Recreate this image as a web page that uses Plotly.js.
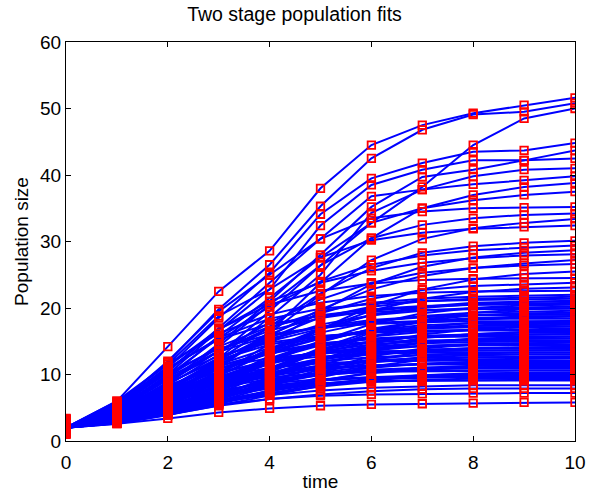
<!DOCTYPE html>
<html>
<head>
<meta charset="utf-8">
<script src="https://cdn.plot.ly/plotly-3.0.1.min.js"></script>
<style>html,body{margin:0;padding:0;background:#fff;}#chart{width:589px;height:493px;}</style>
</head>
<body>
<div id="chart"></div>
<script>
// Time points (x axis)
const times = [0, 1, 2, 3, 4, 5, 6, 7, 8, 9, 10];
const xTickVals = [0, 2, 4, 6, 8, 10];
const yTickVals = [0, 10, 20, 30, 40, 50, 60];

// Upper fitted curves (values at each time point)
const upperCurves = [
  [2, 6.0, 14.2, 22.5, 28.6, 38.0, 44.5, 47.5, 49.3, 50.5, 51.6],
  [2, 5.6, 11.8, 19.8, 26.5, 35.3, 42.5, 46.8, 49.1, 49.5, 50.8],
  [2, 4.4, 8.4, 13.0, 19.5, 26.4, 32.8, 38.2, 44.5, 48.5, 50.0],
  [2, 5.2, 11.0, 18.5, 25.3, 34.1, 39.5, 41.8, 43.5, 43.7, 44.8],
  [2, 4.8, 10.0, 16.6, 22.8, 32.4, 38.5, 40.8, 42.2, 42.2, 43.7],
  [2, 4.3, 8.8, 14.6, 21.0, 28.0, 35.2, 39.7, 40.8, 42.2, 42.5],
  [2, 3.9, 7.6, 12.4, 18.6, 25.0, 34.3, 37.8, 39.8, 40.8, 41.0],
  [2, 5.0, 10.4, 17.0, 23.8, 30.4, 36.8, 37.8, 38.6, 39.2, 39.8],
  [2, 3.7, 7.0, 11.2, 16.4, 23.8, 30.5, 35.0, 37.0, 38.2, 38.8],
  [2, 4.6, 9.4, 15.8, 21.5, 27.6, 32.8, 35.0, 36.2, 37.0, 37.5]
];

// Middle fitted curves
const middleCurves = [
  [2, 5.4, 12.0, 19.5, 25.0, 30.4, 33.5, 34.5, 35.0, 35.1, 35.2],
  [2, 4.2, 8.6, 14.2, 20.5, 26.4, 30.5, 32.5, 33.5, 34.0, 34.2],
  [2, 3.6, 6.8, 11.0, 16.2, 22.0, 27.2, 30.4, 32.0, 32.8, 33.4],
  [2, 5.8, 11.5, 18.8, 22.8, 27.6, 30.2, 31.3, 31.9, 32.2, 32.4],
  [2, 4.0, 7.6, 12.2, 17.2, 22.2, 26.0, 28.3, 29.3, 29.8, 30.1],
  [2, 4.8, 9.8, 15.5, 20.2, 24.0, 26.5, 27.9, 28.7, 29.1, 29.4],
  [2, 3.4, 6.2, 10.0, 14.6, 19.5, 23.6, 26.2, 27.6, 28.3, 28.7],
  [2, 5.0, 10.6, 16.8, 21.0, 23.8, 25.6, 26.8, 27.5, 27.9, 28.1],
  [2, 3.8, 7.2, 11.4, 15.8, 19.8, 22.8, 24.8, 26.0, 26.7, 27.2],
  [2, 4.5, 8.8, 13.5, 17.8, 21.3, 23.8, 25.3, 26.0, 26.4, 26.6],
  [2, 3.3, 5.8, 9.0, 12.8, 16.8, 20.3, 22.8, 24.3, 25.1, 25.5],
  [2, 5.5, 11.2, 16.8, 20.5, 22.6, 23.7, 24.2, 24.4, 24.5, 24.5],
  [2, 4.2, 8.0, 12.2, 16.0, 19.2, 21.4, 22.7, 23.3, 23.6, 23.8],
  [2, 3.6, 6.4, 9.8, 13.4, 16.8, 19.6, 21.4, 22.4, 22.9, 23.1],
  [2, 6.0, 11.6, 16.2, 19.0, 20.8, 21.8, 22.3, 22.5, 22.6, 22.6]
];

// Dense lower band of fitted curves
const denseCurves = [
  [2, 4.3, 8.8, 13.5, 17.0, 19.5, 20.8, 21.4, 21.7, 21.9, 22.0],
  [2, 3.9, 7.5, 11.8, 15.5, 18.6, 20.2, 21.0, 21.4, 21.6, 21.7],
  [2, 5.2, 10.8, 15.5, 18.4, 19.9, 20.6, 21.0, 21.2, 21.3, 21.4],
  [2, 3.5, 6.2, 9.8, 13.6, 16.8, 19.0, 20.2, 20.8, 21.0, 21.1],
  [2, 4.6, 9.2, 13.6, 16.6, 18.5, 19.6, 20.2, 20.5, 20.7, 20.8],
  [2, 3.2, 5.4, 8.4, 11.8, 15.0, 17.6, 19.2, 20.0, 20.4, 20.5],
  [2, 4.0, 7.8, 11.9, 15.2, 17.5, 18.9, 19.6, 20.0, 20.1, 20.2],
  [2, 5.6, 11.0, 15.3, 17.6, 18.8, 19.4, 19.7, 19.8, 19.9, 19.9],
  [2, 3.7, 6.8, 10.4, 13.8, 16.3, 17.9, 18.8, 19.3, 19.5, 19.6],
  [2, 3.0, 4.9, 7.6, 10.8, 14.0, 16.5, 18.1, 18.9, 19.2, 19.3],
  [2, 4.4, 8.6, 12.5, 15.4, 17.2, 18.2, 18.7, 18.9, 19.0, 19.0],
  [2, 3.4, 6.0, 9.2, 12.4, 15.0, 16.8, 17.8, 18.3, 18.6, 18.7],
  [2, 4.9, 9.6, 13.4, 15.8, 17.1, 17.8, 18.1, 18.3, 18.4, 18.4],
  [2, 3.1, 5.0, 7.6, 10.6, 13.5, 15.7, 17.1, 17.8, 18.0, 18.1],
  [2, 3.8, 7.0, 10.4, 13.3, 15.4, 16.7, 17.4, 17.7, 17.8, 17.8],
  [2, 4.2, 8.0, 11.5, 14.0, 15.6, 16.6, 17.1, 17.3, 17.4, 17.5],
  [2, 2.9, 4.6, 6.9, 9.6, 12.3, 14.6, 16.0, 16.8, 17.1, 17.2],
  [2, 3.6, 6.5, 9.6, 12.3, 14.4, 15.7, 16.4, 16.7, 16.8, 16.9],
  [2, 5.0, 9.4, 12.8, 14.8, 15.8, 16.3, 16.5, 16.6, 16.6, 16.6],
  [2, 3.3, 5.6, 8.3, 11.0, 13.3, 14.9, 15.8, 16.1, 16.3, 16.3],
  [2, 4.1, 7.6, 10.8, 13.1, 14.6, 15.4, 15.8, 15.9, 16.0, 16.0],
  [2, 2.8, 4.3, 6.4, 8.9, 11.4, 13.5, 14.8, 15.4, 15.6, 15.7],
  [2, 3.7, 6.6, 9.5, 11.9, 13.5, 14.5, 15.0, 15.3, 15.4, 15.4],
  [2, 4.5, 8.2, 11.3, 13.3, 14.4, 14.9, 15.1, 15.1, 15.1, 15.1],
  [2, 3.2, 5.3, 7.8, 10.2, 12.2, 13.6, 14.3, 14.6, 14.7, 14.8],
  [2, 3.9, 6.9, 9.7, 11.8, 13.1, 13.9, 14.3, 14.4, 14.5, 14.5],
  [2, 2.7, 4.1, 6.0, 8.2, 10.4, 12.2, 13.4, 13.9, 14.1, 14.2],
  [2, 3.5, 6.0, 8.6, 10.8, 12.4, 13.3, 13.7, 13.9, 13.9, 13.9],
  [2, 4.7, 8.4, 11.0, 12.5, 13.2, 13.5, 13.6, 13.6, 13.6, 13.6],
  [2, 3.0, 4.8, 7.0, 9.2, 11.0, 12.3, 13.0, 13.2, 13.3, 13.3],
  [2, 3.8, 6.6, 9.1, 10.9, 12.0, 12.6, 12.9, 13.0, 13.0, 13.0],
  [2, 2.6, 3.9, 5.6, 7.6, 9.6, 11.2, 12.2, 12.6, 12.7, 12.7],
  [2, 3.4, 5.7, 8.0, 9.9, 11.2, 11.9, 12.2, 12.3, 12.4, 12.4],
  [2, 4.2, 7.2, 9.6, 11.0, 11.7, 12.0, 12.1, 12.1, 12.1, 12.1],
  [2, 3.1, 4.9, 6.9, 8.8, 10.3, 11.2, 11.6, 11.8, 11.8, 11.8],
  [2, 3.6, 6.0, 8.2, 9.8, 10.8, 11.3, 11.5, 11.5, 11.5, 11.5],
  [2, 2.8, 4.2, 5.9, 7.6, 9.1, 10.2, 10.8, 11.1, 11.2, 11.2],
  [2, 3.3, 5.3, 7.3, 8.9, 9.9, 10.5, 10.8, 10.9, 10.9, 10.9],
  [2, 4.0, 6.6, 8.5, 9.6, 10.2, 10.5, 10.6, 10.6, 10.6, 10.6],
  [2, 2.7, 3.9, 5.4, 6.9, 8.3, 9.3, 9.9, 10.2, 10.3, 10.3],
  [2, 3.2, 5.0, 6.8, 8.2, 9.1, 9.6, 9.9, 10.0, 10.0, 10.0],
  [2, 3.7, 5.9, 7.6, 8.7, 9.3, 9.6, 9.7, 9.7, 9.7, 9.7],
  [2, 2.9, 4.3, 5.8, 7.1, 8.2, 8.9, 9.2, 9.4, 9.4, 9.4],
  [2, 3.4, 5.2, 6.7, 7.9, 8.6, 8.9, 9.1, 9.1, 9.1, 9.1]
];

// Further curves inside the dense band
const denseCurves2 = [
  [2, 3.5, 6.5, 10.2, 13.9, 16.9, 18.9, 20.0, 20.6, 20.9, 21.0],
  [2, 4.8, 9.8, 14.2, 17.2, 18.9, 19.8, 20.3, 20.5, 20.6, 20.6],
  [2, 2.9, 4.7, 7.2, 10.3, 13.5, 16.3, 18.2, 19.3, 19.8, 20.0],
  [2, 4.1, 8.0, 12.0, 15.0, 16.9, 18.0, 18.6, 18.9, 19.0, 19.1],
  [2, 3.3, 5.8, 8.9, 12.1, 14.9, 16.9, 18.0, 18.5, 18.7, 18.8],
  [2, 5.3, 10.2, 13.9, 16.0, 17.1, 17.6, 17.9, 18.0, 18.0, 18.0],
  [2, 3.0, 5.1, 7.9, 11.0, 13.8, 15.8, 16.9, 17.4, 17.6, 17.7],
  [2, 3.9, 7.3, 10.8, 13.6, 15.4, 16.4, 16.9, 17.1, 17.2, 17.2],
  [2, 4.6, 8.7, 12.2, 14.5, 15.7, 16.3, 16.6, 16.7, 16.7, 16.7],
  [2, 2.8, 4.5, 6.8, 9.5, 12.1, 14.2, 15.5, 16.1, 16.4, 16.5],
  [2, 3.4, 6.0, 8.9, 11.6, 13.7, 15.0, 15.7, 16.0, 16.1, 16.1],
  [2, 4.3, 8.0, 11.2, 13.4, 14.7, 15.3, 15.6, 15.7, 15.7, 15.7],
  [2, 3.1, 5.1, 7.6, 10.1, 12.3, 13.9, 14.8, 15.2, 15.4, 15.4],
  [2, 3.7, 6.5, 9.3, 11.6, 13.2, 14.2, 14.7, 14.9, 15.0, 15.0],
  [2, 2.7, 4.2, 6.2, 8.5, 10.8, 12.7, 13.9, 14.5, 14.7, 14.8],
  [2, 4.0, 7.2, 10.1, 12.2, 13.4, 14.0, 14.3, 14.4, 14.4, 14.4],
  [2, 3.2, 5.3, 7.7, 10.0, 11.9, 13.1, 13.7, 14.0, 14.1, 14.1],
  [2, 3.6, 6.2, 8.8, 10.9, 12.3, 13.1, 13.5, 13.6, 13.7, 13.7],
  [2, 4.5, 7.9, 10.4, 11.9, 12.7, 13.1, 13.3, 13.3, 13.3, 13.3],
  [2, 2.9, 4.5, 6.5, 8.6, 10.4, 11.8, 12.6, 12.9, 13.0, 13.0],
  [2, 3.5, 5.9, 8.3, 10.1, 11.4, 12.1, 12.5, 12.6, 12.6, 12.6],
  [2, 3.0, 4.7, 6.6, 8.5, 10.0, 11.0, 11.6, 11.9, 12.0, 12.0],
  [2, 3.9, 6.5, 8.7, 10.2, 11.0, 11.4, 11.6, 11.7, 11.7, 11.7],
  [2, 2.7, 4.0, 5.7, 7.5, 9.1, 10.3, 11.0, 11.3, 11.4, 11.4],
  [2, 3.3, 5.4, 7.4, 9.0, 10.1, 10.7, 11.0, 11.1, 11.1, 11.1],
  [2, 3.8, 6.2, 8.1, 9.3, 10.0, 10.4, 10.5, 10.6, 10.6, 10.6],
  [2, 2.8, 4.1, 5.7, 7.2, 8.5, 9.4, 9.9, 10.1, 10.2, 10.2],
  [2, 3.4, 5.3, 7.0, 8.3, 9.1, 9.5, 9.7, 9.8, 9.8, 9.8],
  [2, 3.0, 4.5, 6.1, 7.5, 8.6, 9.2, 9.5, 9.6, 9.6, 9.6],
  [2, 3.6, 5.6, 7.1, 8.1, 8.7, 9.0, 9.1, 9.2, 9.2, 9.2]
];

// Lowest separated curves
const lowCurves = [
  [2, 3.0, 4.5, 5.9, 6.9, 7.6, 8.0, 8.2, 8.4, 8.4, 8.4],
  [2, 2.8, 4.0, 5.3, 6.3, 7.0, 7.5, 7.8, 7.9, 7.9, 7.9],
  [2, 3.1, 4.4, 5.5, 6.3, 6.8, 7.0, 7.1, 7.2, 7.2, 7.2],
  [2, 2.6, 3.4, 4.3, 4.9, 5.3, 5.5, 5.6, 5.7, 5.8, 5.8]
];

// Observed starting sizes at time 0 (one per curve, in the order above)
const observedStart = [
  2.1, 1.6, 2.8, 1.3, 2.4, 3.1, 1.9, 2.6, 1.2, 3.3,
  2.2, 1.7, 2.9, 1.4, 2.5, 3.0, 1.8, 2.3, 1.1, 2.7,
  3.2, 1.5, 2.0, 2.6, 1.9,
  2.4, 1.3, 3.1, 2.0, 1.6, 2.8, 2.2, 1.0, 3.4, 2.5,
  1.7, 2.9, 2.1, 1.4, 3.0, 2.3, 1.8, 2.7, 1.2, 3.2,
  2.0, 1.5, 2.6, 2.4, 1.9, 3.3, 1.1, 2.8, 2.2, 1.6,
  3.0, 2.5, 1.3, 2.9, 2.1, 1.8, 3.1, 1.4, 2.3, 2.7,
  1.7, 3.2, 2.0, 1.5,
  2.5, 1.8, 3.0, 2.2, 1.4, 2.7, 1.9, 3.3, 2.1, 1.6,
  2.9, 2.4, 1.2, 3.1, 2.0, 1.7, 2.6, 1.5, 2.8, 2.3,
  1.3, 3.2, 2.2, 1.9, 2.6, 1.1, 3.0, 2.4, 1.8, 2.5,
  2.6, 1.9, 2.4, 1.2
];

const allCurves = upperCurves.concat(middleCurves, denseCurves, denseCurves2, lowCurves);

// Build one line trace (gaps between curves) and one marker trace
const lx = [], ly = [], mx = [], my = [];
allCurves.forEach((curve, i) => {
  curve.forEach((v, j) => {
    lx.push(times[j]); ly.push(v);
    mx.push(times[j]); my.push(j === 0 ? observedStart[i] : v);
  });
  lx.push(null); ly.push(null);
});

const traces = [
  {x: lx, y: ly, type: 'scatter', mode: 'lines', connectgaps: false,
   line: {color: '#0000ff', width: 2}, hoverinfo: 'skip', showlegend: false},
  {x: mx, y: my, type: 'scatter', mode: 'markers',
   marker: {symbol: 'square-open', size: 7.5, color: '#ff0000', line: {width: 1.8, color: '#ff0000'}},
   hoverinfo: 'skip', showlegend: false}
];

const fontFam = 'Liberation Sans, Arial, Helvetica, sans-serif';
const layout = {
  width: 589, height: 493,
  margin: {l: 66, r: 14, t: 42, b: 52},
  paper_bgcolor: '#ffffff', plot_bgcolor: '#ffffff',
  font: {family: fontFam, color: '#000000', size: 19},
  title: {text: 'Two stage population fits', font: {family: fontFam, size: 19.5, color: '#000'},
          x: 0.5, xanchor: 'center', y: 0.972, yanchor: 'middle'},
  xaxis: {
    title: {text: 'time', font: {size: 19}, standoff: 2},
    range: [0, 10], tickvals: xTickVals, ticktext: xTickVals.map(String),
    ticks: 'inside', ticklen: 5, tickwidth: 1, tickcolor: '#000', ticklabelstandoff: 4,
    showline: true, linecolor: '#000', linewidth: 1, mirror: 'ticks',
    showgrid: false, zeroline: false, tickfont: {size: 19}
  },
  yaxis: {
    title: {text: 'Population size', font: {size: 19}, standoff: 6},
    range: [0, 60], tickvals: yTickVals, ticktext: yTickVals.map(String),
    ticks: 'inside', ticklen: 5, tickwidth: 1, tickcolor: '#000',
    showline: true, linecolor: '#000', linewidth: 1, mirror: 'ticks',
    showgrid: false, zeroline: false, tickfont: {size: 19}
  }
};

Plotly.newPlot('chart', traces, layout, {staticPlot: true, displayModeBar: false});
</script>
</body>
</html>
